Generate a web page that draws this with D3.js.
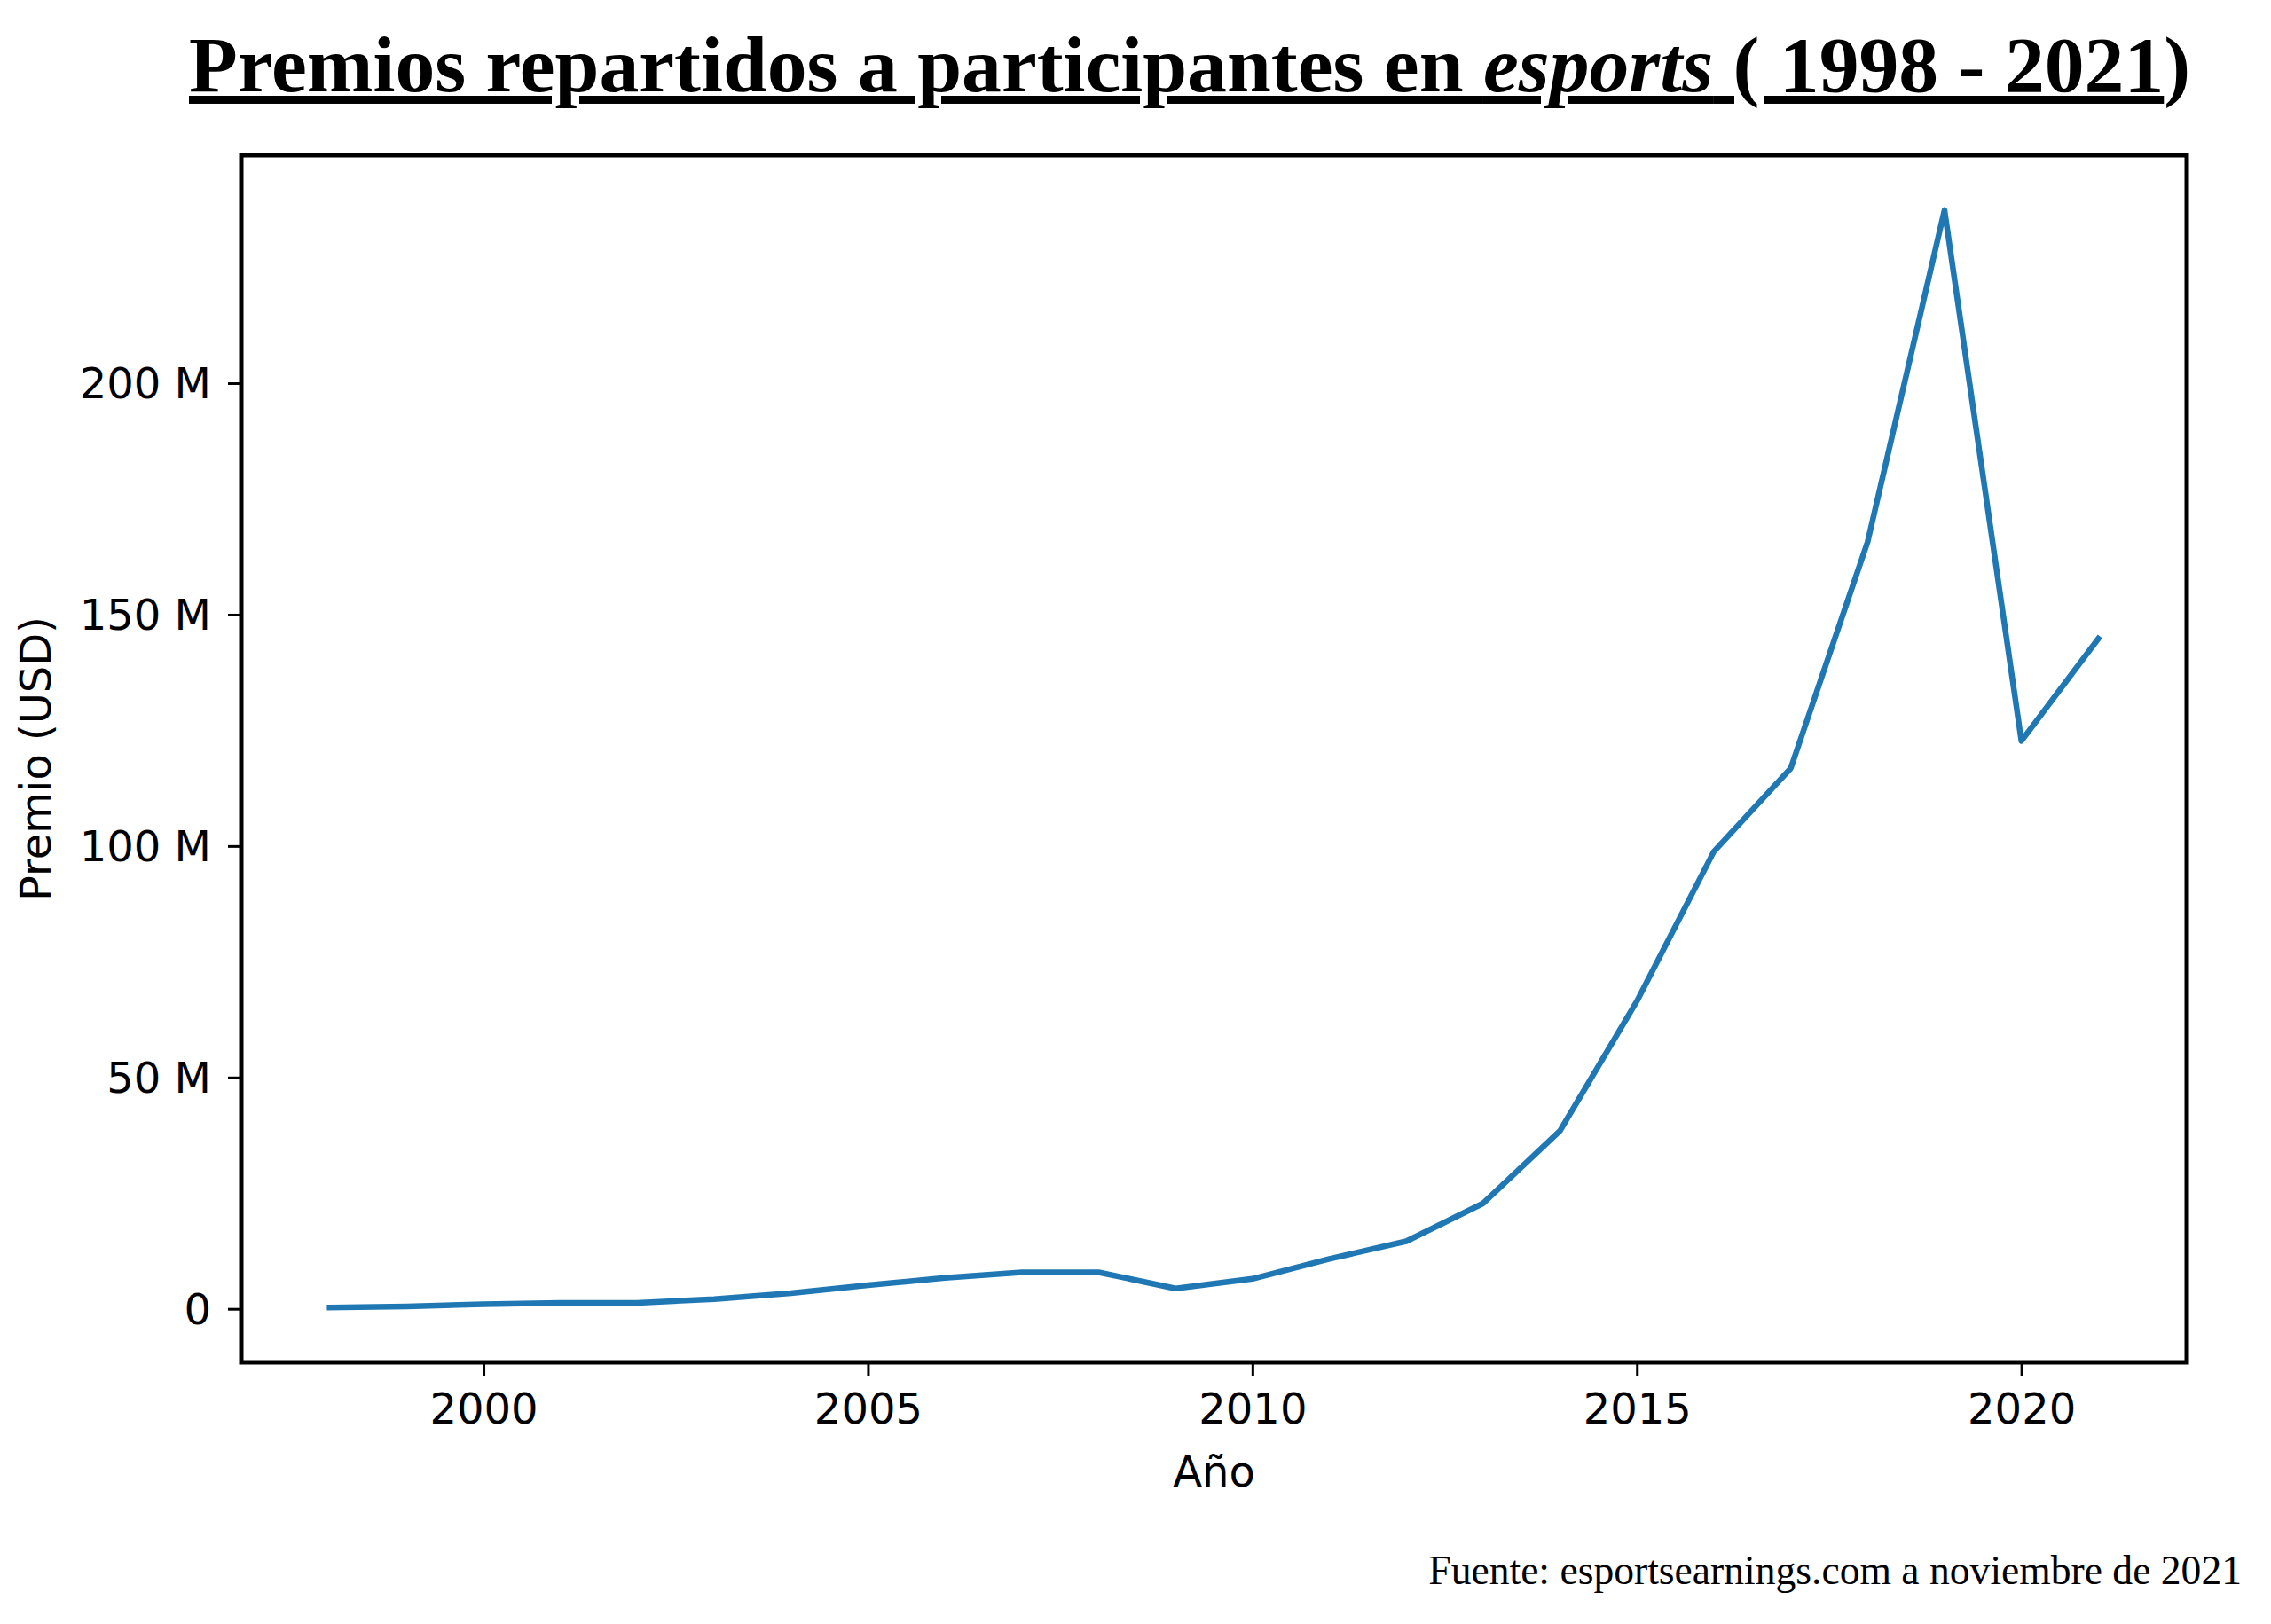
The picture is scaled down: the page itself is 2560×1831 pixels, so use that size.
<!DOCTYPE html>
<html>
<head>
<meta charset="utf-8">
<script src="https://cdn.jsdelivr.net/npm/d3@7"></script>
<style>
  html, body { margin: 0; padding: 0; background: #fff; }
  svg { display: block; }
</style>
</head>
<body>
<svg id="chart" width="2560" height="1831"></svg>
<script>
// ---- Data ----
const years = [1998, 1999, 2000, 2001, 2002, 2003, 2004, 2005, 2006, 2007, 2008, 2009,
               2010, 2011, 2012, 2013, 2014, 2015, 2016, 2017, 2018, 2019, 2020, 2021];
// prize money in millions of USD
const prizes = [0.3, 0.5, 1.0, 1.3, 1.3, 2.1, 3.4, 5.1, 6.7, 7.9, 7.9, 4.4,
                6.5, 10.8, 14.6, 22.8, 38.5, 66.5, 98.8, 116.8, 165.7, 237.4, 122.7, 144.8];
const xTicks = [2000, 2005, 2010, 2015, 2020];
const yTicks = [0, 50, 100, 150, 200];
const titleMain = "Premios repartidos a participantes en ";
const titleItalic = "esports";
const titleTail = " ( 1998 - 2021";
const titleClose = ")";
const xLabel = "Año";
const yLabel = "Premio (USD)";
const sourceText = "Fuente: esportsearnings.com a noviembre de 2021";

// ---- Layout ----
const plot = { left: 272, right: 2465, top: 175, bottom: 1536 };
const svg = d3.select("#chart");

function padded(ext) {
  const r = ext[1] - ext[0];
  return [ext[0] - 0.05 * r, ext[1] + 0.05 * r];
}

const x = d3.scaleLinear().domain(padded(d3.extent(years))).range([plot.left, plot.right]);
const y = d3.scaleLinear().domain(padded(d3.extent(prizes))).range([plot.bottom, plot.top]);

const data = years.map((yr, i) => ({ year: yr, value: prizes[i] }));

// line
const line = d3.line().x(d => x(d.year)).y(d => y(d.value));
svg.append("path")
  .datum(data)
  .attr("d", line)
  .attr("fill", "none")
  .attr("stroke", "#1f77b4")
  .attr("stroke-width", 6.5)
  .attr("stroke-linejoin", "round")
  .attr("stroke-linecap", "square");

// axes
const tickFont = "'DejaVu Sans', sans-serif";
const xAxis = d3.axisBottom(x).tickValues(xTicks).tickSize(15).tickPadding(20).tickFormat(d3.format("d"));
const yAxis = d3.axisLeft(y).tickValues(yTicks).tickSize(15).tickPadding(19)
  .tickFormat(d => d === 0 ? "0" : d + " M");

const gx = svg.append("g").attr("transform", `translate(0,${plot.bottom})`).call(xAxis);
const gy = svg.append("g").attr("transform", `translate(${plot.left},0)`).call(yAxis);
[gx, gy].forEach(g => {
  g.select(".domain").remove();
  g.selectAll(".tick line").attr("stroke", "#000").attr("stroke-width", 3);
  g.selectAll(".tick text").attr("fill", "#000")
    .style("font-family", tickFont).style("font-size", "48px");
});
gx.selectAll(".tick text").attr("dy", "0.71em");
gy.selectAll(".tick text").attr("dy", "0.34em");

// frame
svg.append("rect")
  .attr("x", plot.left).attr("y", plot.top)
  .attr("width", plot.right - plot.left).attr("height", plot.bottom - plot.top)
  .attr("fill", "none").attr("stroke", "#000").attr("stroke-width", 5);

// axis labels
svg.append("text")
  .attr("x", (plot.left + plot.right) / 2).attr("y", 1676)
  .attr("text-anchor", "middle")
  .style("font-family", tickFont).style("font-size", "48px")
  .attr("fill", "#000")
  .text(xLabel);

svg.append("text")
  .attr("transform", `translate(57,${(plot.top + plot.bottom) / 2}) rotate(-90)`)
  .attr("text-anchor", "middle")
  .style("font-family", tickFont).style("font-size", "48px")
  .attr("fill", "#000")
  .text(yLabel);

// title
const title = svg.append("text")
  .attr("x", 213).attr("y", 103)
  .style("font-family", "'Liberation Serif', 'Times New Roman', serif")
  .style("font-size", "89.7px").style("font-weight", "bold")
  .attr("fill", "#000");
title.append("tspan").style("text-decoration", "underline").text(titleMain);
title.append("tspan").style("text-decoration", "underline").style("font-style", "italic").text(titleItalic);
title.append("tspan").style("text-decoration", "underline").text(titleTail);
title.append("tspan").text(titleClose);

// source
svg.append("text")
  .attr("x", 2527).attr("y", 1786)
  .attr("text-anchor", "end")
  .style("font-family", "'Liberation Serif', 'Times New Roman', serif")
  .style("font-size", "45.6px")
  .attr("fill", "#000")
  .text(sourceText);
</script>
</body>
</html>
